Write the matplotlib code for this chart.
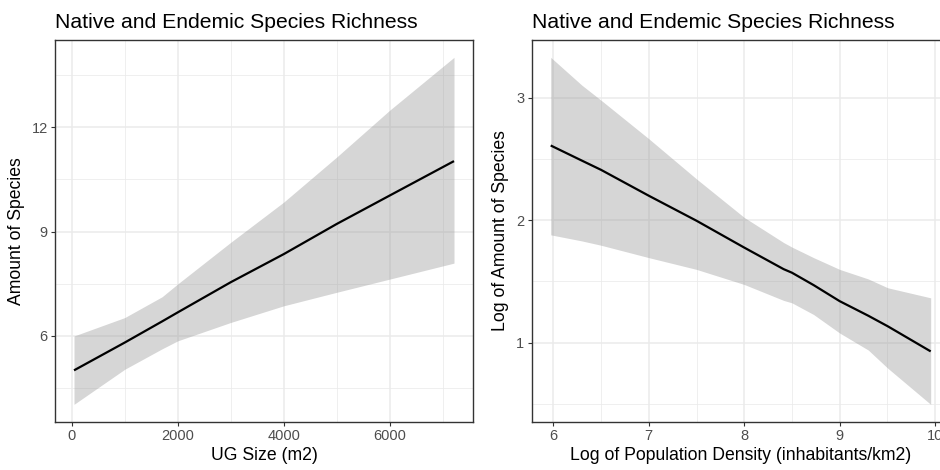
import matplotlib
matplotlib.use("Agg")
import matplotlib.pyplot as plt
from matplotlib.ticker import MultipleLocator
import numpy as np

plt.rcParams['font.family'] = ['Liberation Sans', 'DejaVu Sans']

# ---- Left panel data: UG size vs amount of species ----
ug_x = [44, 1000, 1705, 2000, 3000, 4000, 5000, 6000, 7210]
ug_fit = [5.00, 5.80, 6.41, 6.67, 7.54, 8.35, 9.22, 10.04, 11.03]
ug_upper = [5.99, 6.52, 7.12, 7.49, 8.69, 9.85, 11.15, 12.50, 14.02]
ug_lower = [4.02, 5.03, 5.62, 5.85, 6.38, 6.86, 7.25, 7.63, 8.09]

# ---- Right panel data: log population density vs log amount of species ----
pd_x = [5.972, 6.30, 6.50, 7.00, 7.50, 8.00, 8.413, 8.50, 8.727, 9.00, 9.30, 9.504, 9.954]
pd_fit = [2.609, 2.485, 2.410, 2.199, 1.995, 1.776, 1.600, 1.571, 1.47, 1.339, 1.22, 1.134, 0.929]
pd_upper = [3.328, 3.10, 2.978, 2.664, 2.336, 2.022, 1.817, 1.78, 1.694, 1.598, 1.52, 1.448, 1.366]
pd_lower = [1.880, 1.83, 1.795, 1.694, 1.598, 1.475, 1.345, 1.325, 1.230, 1.079, 0.94, 0.792, 0.497]

title_text = "Native and Endemic Species Richness"
left_xlabel = "UG Size (m2)"
left_ylabel = "Amount of Species"
right_xlabel = "Log of Population Density (inhabitants/km2)"
right_ylabel = "Log of Amount of Species"
left_xticks = [0, 2000, 4000, 6000]
left_yticks = [6, 9, 12]
right_xticks = [6, 7, 8, 9, 10]
right_yticks = [1, 2, 3]

W, H = 940, 470
fig = plt.figure(figsize=(W / 100, H / 100), dpi=100)

ax1 = fig.add_axes([55 / W, 1 - 421.7 / H, 418 / W, 381.7 / H])
ax2 = fig.add_axes([531.7 / W, 1 - 421.7 / H, 418 / W, 381.7 / H])


def expand(lo, hi, f=0.05):
    d = (hi - lo) * f
    return lo - d, hi + d


def style(ax, x, fit, up, lo, xt, yt, xminor, yminor, xlabel, ylabel):
    ax.set_facecolor('white')
    ax.fill_between(x, lo, up, color='#999999', alpha=0.4, linewidth=0, zorder=2)
    ax.plot(x, fit, color='black', lw=1.6, zorder=3, solid_capstyle='butt')
    ax.set_xlim(*expand(min(x), max(x)))
    ax.set_ylim(*expand(min(lo), max(up)))
    ax.set_xticks(xt)
    ax.set_yticks(yt)
    ax.xaxis.set_minor_locator(MultipleLocator(xminor))
    ax.yaxis.set_minor_locator(MultipleLocator(yminor))
    ax.grid(True, which='major', color='#EBEBEB', lw=1.1, zorder=0)
    ax.grid(True, which='minor', color='#EBEBEB', lw=0.55, zorder=0)
    ax.set_axisbelow(True)
    ax.tick_params(which='minor', length=0)
    ax.tick_params(which='major', length=2.75, width=0.8, color='#333333',
                   labelcolor='#4D4D4D', labelsize=10.5, pad=2.5)
    for s in ax.spines.values():
        s.set_color('#333333')
        s.set_linewidth(1.0)
    ax.set_xlabel(xlabel, fontsize=12.7, color='black', labelpad=3)
    ax.set_ylabel(ylabel, fontsize=12.7, color='black', labelpad=5)
    ax.set_title(title_text, loc='left', fontsize=15.2, color='black', pad=9)


style(ax1, ug_x, ug_fit, ug_upper, ug_lower, left_xticks, left_yticks, 1000, 1.5,
      left_xlabel, left_ylabel)
style(ax2, pd_x, pd_fit, pd_upper, pd_lower, right_xticks, right_yticks, 0.5, 0.5,
      right_xlabel, right_ylabel)

fig.savefig("out.png", dpi=100)
